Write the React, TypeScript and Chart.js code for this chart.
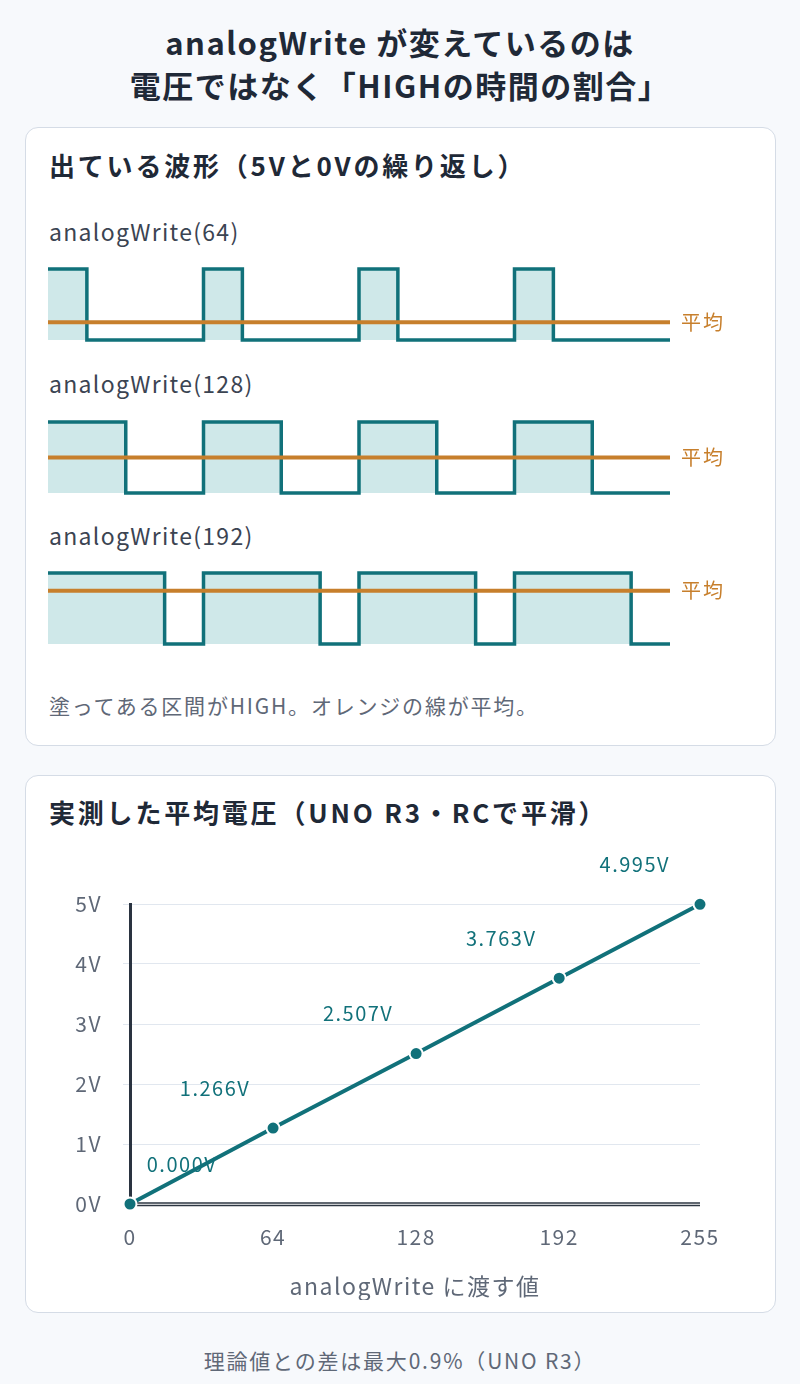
import React, { useEffect, useRef } from "react";
import { Chart, registerables } from "chart.js";

Chart.register(...registerables);

const FONT = '"Noto Sans CJK JP", "Noto Sans", sans-serif';
const TEAL = "#11717a";
const FILL = "#cfe8e9";
const ORANGE = "#c77f2c";
const GRAY = "#5f6877";
const DARK = "#1f2937";

// waveform data (time in PWM periods, level in volts)
const waveLabels = ["analogWrite(64)", "analogWrite(128)", "analogWrite(192)"];
const waveTimes64 = [0, 0.25, 1, 1.25, 2, 2.25, 3, 3.25, 4];
const waveTimes128 = [0, 0.5, 1, 1.5, 2, 2.5, 3, 3.5, 4];
const waveTimes192 = [0, 0.75, 1, 1.75, 2, 2.75, 3, 3.75, 4];
const waveLevels = [5, 0, 5, 0, 5, 0, 5, 0, 0];
const waveAverages = [1.25, 2.5, 3.75];
const avgLabel = "平均";

// measured data
const writeValues = [0, 64, 128, 192, 255];
const measuredVolts = [0.0, 1.266, 2.507, 3.763, 4.995];
const xTicks = [0, 64, 128, 192, 255];
const yTicks = [0, 1, 2, 3, 4, 5];

function WaveChart({ times, avg, top }: { times: number[]; avg: number; top: number }) {
  const ref = useRef<HTMLCanvasElement>(null);
  useEffect(() => {
    const avgPlugin = {
      id: "avgLabel",
      afterDraw(chart: any) {
        const { ctx, chartArea, scales } = chart;
        ctx.save();
        ctx.font = `20px ${FONT}`;
        (ctx as any).letterSpacing = "2px";
        ctx.fillStyle = ORANGE;
        ctx.textBaseline = "middle";
        ctx.textAlign = "left";
        ctx.fillText(avgLabel, chartArea.right + 11, scales.y.getPixelForValue(avg));
        ctx.restore();
      },
    };
    const chart = new Chart(ref.current!, {
      type: "line",
      data: {
        datasets: [
          {
            data: [
              { x: times[0], y: avg },
              { x: times[times.length - 1], y: avg },
            ],
            borderColor: ORANGE,
            borderWidth: 4,
            pointRadius: 0,
            fill: false,
            clip: false as any,
          },
          {
            data: times.map((t, i) => ({ x: t, y: waveLevels[i] })),
            stepped: "before",
            borderColor: TEAL,
            borderWidth: 3.5,
            borderJoinStyle: "miter",
            borderCapStyle: "butt",
            pointRadius: 0,
            fill: "origin",
            backgroundColor: FILL,
            clip: false as any,
          },
        ],
      },
      options: {
        animation: false,
        responsive: false,
        events: [],
        layout: { padding: { left: 8, right: 70, top: 6, bottom: 6 } },
        plugins: { legend: { display: false }, tooltip: { enabled: false } },
        scales: {
          x: { type: "linear", min: 0, max: 4, display: false },
          y: { type: "linear", min: 0, max: 5, display: false },
        },
      },
      plugins: [avgPlugin],
    });
    return () => chart.destroy();
  }, []);
  return (
    <canvas
      ref={ref}
      width={700}
      height={83}
      style={{ position: "absolute", left: 40, top, width: 700, height: 83 }}
    />
  );
}

function MeasuredChart() {
  const ref = useRef<HTMLCanvasElement>(null);
  useEffect(() => {
    const spacingPlugin = {
      id: "spacing",
      beforeLayout(chart: any) {
        chart.ctx.letterSpacing = "1.5px";
      },
      beforeDraw(chart: any) {
        chart.ctx.letterSpacing = "1.5px";
      },
    };
    const labelPlugin = {
      id: "pointLabels",
      afterDatasetsDraw(chart: any) {
        const { ctx, chartArea } = chart;
        const meta = chart.getDatasetMeta(0);
        ctx.save();
        ctx.font = `20px ${FONT}`;
        ctx.letterSpacing = "1.5px";
        ctx.fillStyle = TEAL;
        ctx.textAlign = "center";
        ctx.textBaseline = "middle";
        meta.data.forEach((pt: any, i: number) => {
          const text = measuredVolts[i].toFixed(3) + "V";
          const w = ctx.measureText(text).width;
          let x = pt.x - 58;
          if (x - w / 2 < chartArea.left) x = pt.x + 52;
          if (x + w / 2 > chartArea.right - 30) x = chartArea.right - 30 - w / 2;
          ctx.fillText(text, x, pt.y - 40);
        });
        ctx.restore();
      },
      beforeDatasetsDraw(chart: any) {
        const { ctx, chartArea } = chart;
        ctx.save();
        ctx.strokeStyle = "#2d3642";
        ctx.lineWidth = 1.3;
        [chartArea.bottom - 1, chartArea.bottom + 1.5].forEach((y) => {
          ctx.beginPath();
          ctx.moveTo(chartArea.left, y);
          ctx.lineTo(chartArea.right, y);
          ctx.stroke();
        });
        ctx.restore();
      },
    };
    const chart = new Chart(ref.current!, {
      type: "line",
      data: {
        datasets: [
          {
            data: writeValues.map((v, i) => ({ x: v, y: measuredVolts[i] })),
            borderColor: TEAL,
            borderWidth: 4,
            pointRadius: 6.5,
            pointBackgroundColor: TEAL,
            pointBorderColor: "#ffffff",
            pointBorderWidth: 2,
            clip: false as any,
          },
        ],
      },
      options: {
        animation: false,
        responsive: false,
        events: [],
        layout: { padding: { left: 0, right: 74, top: 64, bottom: 0 } },
        plugins: { legend: { display: false }, tooltip: { enabled: false } },
        scales: {
          x: {
            type: "linear",
            min: 0,
            max: 255,
            afterBuildTicks: (s: any) => {
              s.ticks = xTicks.map((v) => ({ value: v }));
            },
            afterFit: (s: any) => {
              s.height = 96;
            },
            grid: { display: false, drawTicks: false },
            border: { display: false },
            ticks: {
              font: { family: FONT, size: 21 },
              color: GRAY,
              padding: 20,
              maxRotation: 0,
            },
            title: {
              display: true,
              text: "analogWrite に渡す値",
              font: { family: FONT, size: 23 },
              color: GRAY,
              padding: { top: 12, bottom: 0 },
            },
          },
          y: {
            type: "linear",
            min: 0,
            max: 5,
            afterBuildTicks: (s: any) => {
              s.ticks = yTicks.map((v) => ({ value: v }));
            },
            afterFit: (s: any) => {
              s.width = 104;
            },
            grid: {
              color: (c: any) => (c.tick && c.tick.value === 0 ? "rgba(0,0,0,0)" : "#e1e7ef"),
              lineWidth: 1,
              tickLength: 7,
              drawTicks: true,
            },
            border: { display: true, color: "#2a3340", width: 3 },
            ticks: {
              font: { family: FONT, size: 21 },
              color: GRAY,
              padding: 21,
              callback: (v: any) => v + "V",
            },
          },
        },
      },
      plugins: [spacingPlugin, labelPlugin],
    });
    return () => chart.destroy();
  }, []);
  return (
    <canvas
      ref={ref}
      width={748}
      height={460}
      style={{ position: "absolute", left: 26, top: 840, width: 748, height: 460 }}
    />
  );
}

const cardStyle: React.CSSProperties = {
  position: "absolute",
  left: 25,
  width: 751,
  background: "#ffffff",
  border: "1.5px solid #d5dce6",
  borderRadius: 13,
  boxSizing: "border-box",
};

const headingStyle: React.CSSProperties = {
  position: "absolute",
  left: 49,
  fontSize: 26,
  fontWeight: 700,
  lineHeight: "34px",
  letterSpacing: "2.8px",
  color: DARK,
  whiteSpace: "nowrap",
};

const noteStyle: React.CSSProperties = {
  position: "absolute",
  fontSize: 21,
  lineHeight: "28px",
  letterSpacing: "1.8px",
  color: GRAY,
  whiteSpace: "nowrap",
};

export default function App() {
  useEffect(() => {
    document.body.style.margin = "0";
  }, []);
  const waveTops = [263, 416, 567];
  const labelTops = [232, 384, 536];
  const times = [waveTimes64, waveTimes128, waveTimes192];
  return (
    <div
      style={{
        position: "absolute",
        left: 0,
        top: 0,
        width: 800,
        height: 1384,
        background: "#f7f9fc",
        fontFamily: FONT,
        overflow: "hidden",
      }}
    >
      <div
        style={{
          position: "absolute",
          top: 20,
          left: 0,
          width: 800,
          textAlign: "center",
          fontSize: 31,
          fontWeight: 700,
          lineHeight: "43px",
          letterSpacing: "1.5px",
          color: DARK,
        }}
      >
        analogWrite が変えているのは
        <br />
        電圧ではなく「HIGHの時間の割合」
      </div>

      <div style={{ ...cardStyle, top: 127, height: 619 }} />
      <div style={{ ...headingStyle, top: 148 }}>出ている波形（5Vと0Vの繰り返し）</div>
      {waveLabels.map((t, i) => (
        <div
          key={t}
          style={{
            position: "absolute",
            left: 49,
            top: labelTops[i] - 16,
            fontSize: 23,
            lineHeight: "30px",
            letterSpacing: "1.3px",
            color: "#3b4452",
            whiteSpace: "nowrap",
          }}
        >
          {t}
        </div>
      ))}
      {times.map((t, i) => (
        <WaveChart key={i} times={t} avg={waveAverages[i]} top={waveTops[i]} />
      ))}
      <div style={{ ...noteStyle, left: 49, top: 691 }}>
        塗ってある区間がHIGH。オレンジの線が平均。
      </div>

      <div style={{ ...cardStyle, top: 775, height: 538 }} />
      <div style={{ ...headingStyle, top: 795 }}>実測した平均電圧（UNO R3・RCで平滑）</div>
      <MeasuredChart />

      <div style={{ ...noteStyle, top: 1346, left: 0, width: 800, textAlign: "center" }}>
        理論値との差は最大0.9%（UNO R3）
      </div>
    </div>
  );
}
